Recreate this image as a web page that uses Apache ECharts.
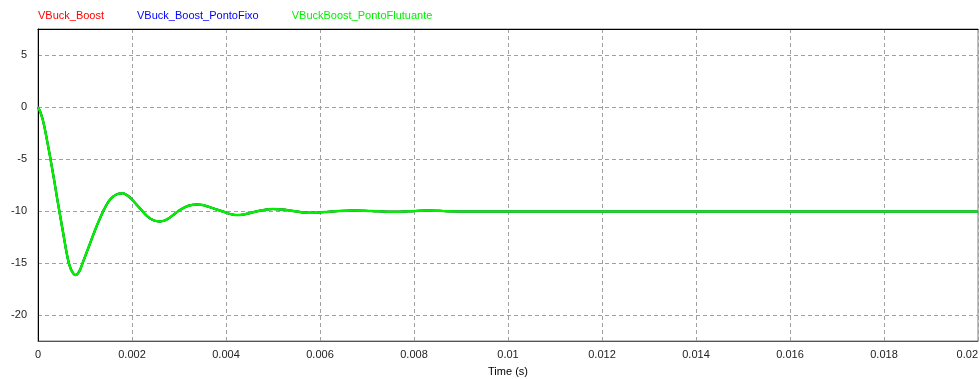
<!DOCTYPE html>
<html>
<head>
<meta charset="utf-8">
<script src="https://cdn.jsdelivr.net/npm/echarts@6/dist/echarts.min.js"></script>
<style>
  html, body { margin: 0; padding: 0; background: #ffffff; }
  #chart { width: 980px; height: 379px; }
</style>
</head>
<body>
<div id="chart"></div>
<script>
// Simulated output voltage of the buck-boost converter (three implementations)
const seriesNames = ['VBuck_Boost', 'VBuck_Boost_PontoFixo', 'VBuckBoost_PontoFlutuante'];
const seriesColors = ['#ff0000', '#0000ff', '#00f000'];

// time instants, in milliseconds
const timeMs = [
  0, 0.05, 0.1, 0.15, 0.2, 0.25, 0.3, 0.35, 0.4, 0.45,
  0.5, 0.55, 0.6, 0.65, 0.7, 0.75, 0.8, 0.85, 0.9, 0.95,
  1.0, 1.1, 1.2, 1.3, 1.4, 1.5, 1.6, 1.7, 1.8, 1.9,
  2.0, 2.1, 2.2, 2.3, 2.4, 2.5, 2.6, 2.7, 2.8, 2.9,
  3.0, 3.1, 3.2, 3.3, 3.4, 3.5, 3.6, 3.7, 3.8, 3.9,
  4.0, 4.1, 4.2, 4.3, 4.4, 4.6, 4.8, 5.0, 5.2, 5.4,
  5.6, 5.85, 6.1, 6.4, 6.7, 7.1, 7.5, 7.9, 8.3, 8.7,
  9.2, 10, 11, 12, 13, 14, 15, 16, 17, 18, 19, 20
];

// output voltage (V) for each implementation
const vBuckBoost = [
  0, -0.5, -1.2, -2.2, -3.4, -4.6, -5.9, -7.2, -8.6, -9.9,
  -11.2, -12.5, -13.8, -14.9, -15.6, -16.0, -16.15, -16.0, -15.6, -15.0,
  -14.4, -13.2, -12.0, -10.9, -9.9, -9.1, -8.6, -8.35, -8.3, -8.5,
  -8.9, -9.4, -9.9, -10.4, -10.75, -10.95, -11.0, -10.9, -10.65, -10.3,
  -9.95, -9.7, -9.5, -9.4, -9.38, -9.42, -9.55, -9.7, -9.85, -10.0,
  -10.15, -10.3, -10.38, -10.38, -10.32, -10.1, -9.9, -9.8, -9.85, -9.98,
  -10.12, -10.18, -10.1, -10.0, -9.95, -10.0, -10.08, -10.02, -9.95, -10.02,
  -10.05, -10.05, -10.05, -10.05, -10.05, -10.05, -10.05, -10.05, -10.05, -10.05, -10.05, -10.05
];
const vBuckBoostPontoFixo = [
  0, -0.5, -1.2, -2.2, -3.4, -4.6, -5.9, -7.2, -8.6, -9.9,
  -11.2, -12.5, -13.8, -14.9, -15.6, -16.0, -16.15, -16.0, -15.6, -15.0,
  -14.4, -13.2, -12.0, -10.9, -9.9, -9.1, -8.6, -8.35, -8.3, -8.5,
  -8.9, -9.4, -9.9, -10.4, -10.75, -10.95, -11.0, -10.9, -10.65, -10.3,
  -9.95, -9.7, -9.5, -9.4, -9.38, -9.42, -9.55, -9.7, -9.85, -10.0,
  -10.15, -10.3, -10.38, -10.38, -10.32, -10.1, -9.9, -9.8, -9.85, -9.98,
  -10.12, -10.18, -10.1, -10.0, -9.95, -10.0, -10.08, -10.02, -9.95, -10.02,
  -10.05, -10.05, -10.05, -10.05, -10.05, -10.05, -10.05, -10.05, -10.05, -10.05, -10.05, -10.05
];
const vBuckBoostPontoFlutuante = [
  0, -0.5, -1.2, -2.2, -3.4, -4.6, -5.9, -7.2, -8.6, -9.9,
  -11.2, -12.5, -13.8, -14.9, -15.6, -16.0, -16.15, -16.0, -15.6, -15.0,
  -14.4, -13.2, -12.0, -10.9, -9.9, -9.1, -8.6, -8.35, -8.3, -8.5,
  -8.9, -9.4, -9.9, -10.4, -10.75, -10.95, -11.0, -10.9, -10.65, -10.3,
  -9.95, -9.7, -9.5, -9.4, -9.38, -9.42, -9.55, -9.7, -9.85, -10.0,
  -10.15, -10.3, -10.38, -10.38, -10.32, -10.1, -9.9, -9.8, -9.85, -9.98,
  -10.12, -10.18, -10.1, -10.0, -9.95, -10.0, -10.08, -10.02, -9.95, -10.02,
  -10.05, -10.05, -10.05, -10.05, -10.05, -10.05, -10.05, -10.05, -10.05, -10.05, -10.05, -10.05
];

const voltageSets = [vBuckBoost, vBuckBoostPontoFixo, vBuckBoostPontoFlutuante];

function pairs(values) {
  return timeMs.map((t, i) => [t / 1000, values[i]]);
}

const font = 'Liberation Sans, Arial, sans-serif';
const gridLine = { show: true, lineStyle: { color: '#a0a0a0', type: [4, 3], width: 1 } };

const chart = echarts.init(document.getElementById('chart'), null, { renderer: 'canvas' });
chart.setOption({
  animation: false,
  backgroundColor: '#ffffff',
  legend: {
    left: 28,
    top: 5,
    itemWidth: 0,
    itemHeight: 0,
    itemGap: 28,
    icon: 'none',
    selectedMode: false,
    data: seriesNames.map((n, i) => ({
      name: n,
      icon: 'none',
      textStyle: { color: seriesColors[i], fontFamily: font, fontSize: 11 }
    }))
  },
  grid: {
    left: 38, top: 29, right: 2, bottom: 38,
    outerBoundsMode: 'none',
    containLabel: false,
    show: true, borderColor: '#808080', borderWidth: 1
  },
  xAxis: [{
    type: 'value',
    min: 0, max: 0.02, interval: 0.002,
    name: 'Time (s)',
    nameLocation: 'middle',
    nameGap: 25,
    nameTextStyle: { color: '#000', fontFamily: font, fontSize: 11 },
    axisLine: { show: true, onZero: false, lineStyle: { color: '#555555', width: 1 } },
    axisTick: { show: false },
    axisLabel: { color: '#222', fontFamily: font, fontSize: 11, margin: 8, alignMaxLabel: 'right' },
    splitLine: gridLine
  }, {
    type: 'value', position: 'top',
    min: 0, max: 0.02,
    axisLine: { show: true, onZero: false, lineStyle: { color: '#000', width: 1 } },
    axisTick: { show: false }, axisLabel: { show: false }, splitLine: { show: false }
  }],
  yAxis: {
    type: 'value',
    min: -22.5, max: 7.5, splitNumber: 6,
    axisLine: { show: true, onZero: false, lineStyle: { color: '#000', width: 1 } },
    axisTick: { show: false },
    axisLabel: {
      color: '#222', fontFamily: font, fontSize: 11, margin: 11,
      showMinLabel: false, showMaxLabel: false,
      formatter: v => (Math.abs(v % 5) < 1e-9 ? String(v) : '')
    },
    splitLine: gridLine
  },
  series: seriesNames.map((n, i) => ({
    name: n,
    type: 'line',
    xAxisIndex: 0,
    data: pairs(voltageSets[i]),
    showSymbol: false,
    symbol: 'none',
    sampling: 'none',
    smooth: 0.3,
    color: seriesColors[i],
    lineStyle: { color: seriesColors[i], width: i === 2 ? 2.5 : 2 },
    z: 2 + i
  }))
});
</script>
</body>
</html>
